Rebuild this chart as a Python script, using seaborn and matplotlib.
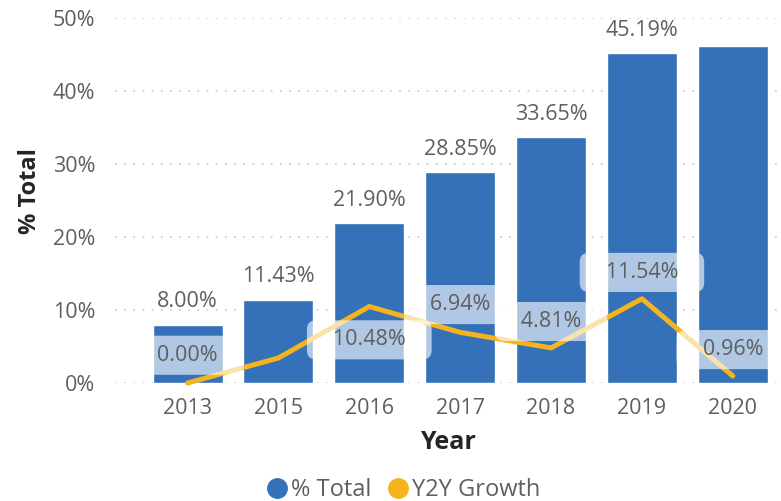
import numpy as np
import matplotlib
matplotlib.use('Agg')
import matplotlib.pyplot as plt
from matplotlib.lines import Line2D
import seaborn as sns

# data
years = ['2013', '2015', '2016', '2017', '2018', '2019', '2020']
pct_total = [8.00, 11.43, 21.90, 28.85, 33.65, 45.19, 46.15]
y2y_growth = [0.00, 3.43, 10.48, 6.94, 4.81, 11.54, 0.96]
# labels the original shows (None = hidden in the original)
total_labels = ['8.00%', '11.43%', '21.90%', '28.85%', '33.65%', '45.19%', None]
growth_labels = ['0.00%', None, '10.48%', '6.94%', '4.81%', '11.54%', '0.96%']

BLUE = '#3471B9'
ORANGE = '#F5B41E'
GRAY = '#5f5f5f'

sns.set_theme(style='white')
plt.rcParams['font.family'] = ['Open Sans', 'DejaVu Sans']

fig = plt.figure(figsize=(7.81, 5.01), dpi=100)
ax = fig.add_axes([0.147, 0.2355, 0.853, 0.7285])

sns.barplot(x=years, y=pct_total, color=BLUE, width=0.77, saturation=1, ax=ax, zorder=2)
sns.lineplot(x=np.arange(len(years)), y=y2y_growth, color=ORANGE, linewidth=3.6,
             ax=ax, zorder=4, clip_on=False)

ax.set_xlim(-0.8, 6.53)
ax.set_ylim(0, 50)
ax.set_yticks(range(0, 51, 10))
ax.set_yticklabels([f'{v}%' for v in range(0, 51, 10)])
ax.yaxis.grid(True, linestyle=(0, (1, 4.5)), color='#c8c8c8', linewidth=1.2, zorder=0)
ax.xaxis.grid(False)
for s in ax.spines.values():
    s.set_visible(False)
ax.tick_params(axis='both', length=0, labelsize=15.5, labelcolor=GRAY)
ax.tick_params(axis='x', pad=11)
ax.tick_params(axis='y', pad=14)

ax.set_xlabel('Year', fontsize=18, fontweight='bold', color='#252525', labelpad=8)
ax.set_ylabel('% Total', fontsize=17, fontweight='bold', color='#252525')
ax.yaxis.set_label_coords(-0.11, 0.526)

# bar labels
for i, lab in enumerate(total_labels):
    if lab:
        ax.annotate(lab, (i, pct_total[i]), xytext=(0, 9), textcoords='offset points',
                    ha='center', va='bottom', fontsize=15.5, color=GRAY, zorder=5)

# growth labels (10.48% sits below its point in the original)
for i, lab in enumerate(growth_labels):
    if lab:
        dy = -24 if i == 2 else 19
        if i in (0, 3):
            dy = 20
        ax.annotate(f'   {lab}   ', (i, y2y_growth[i]), xytext=(0, dy), textcoords='offset points',
                    ha='center', va='center', fontsize=15.5, color=GRAY, zorder=6,
                    bbox=dict(boxstyle='round,pad=0.42', facecolor='white', alpha=0.62,
                              edgecolor='none'))

handles = [Line2D([], [], marker='o', linestyle='none', markersize=14, color=BLUE),
           Line2D([], [], marker='o', linestyle='none', markersize=14, color=ORANGE)]
fig.legend(handles, ['% Total', 'Y2Y Growth'], loc='lower center',
           bbox_to_anchor=(0.517, -0.045), ncol=2, frameon=False, fontsize=17,
           handlelength=0.8, handletextpad=0.2, columnspacing=0.7, labelcolor=GRAY)

fig.savefig('out.png', dpi=100)
